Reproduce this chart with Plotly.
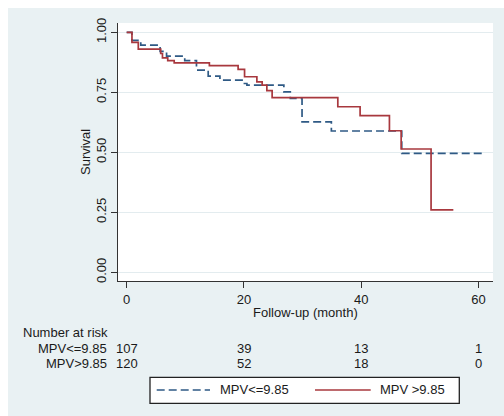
import plotly.graph_objects as go

# ---- data ----
t_low = [0, 0.9, 2.4, 5.7, 6.8, 9.9, 11.9, 13.9, 15.9, 19.9, 20.5, 26.8, 27.9, 29.9, 34.9, 46.9, 60.6]
s_low = [1.0, 0.967, 0.947, 0.921, 0.901, 0.882, 0.843, 0.818, 0.801, 0.787, 0.780, 0.752, 0.725, 0.627, 0.589, 0.496, 0.496]

t_high = [0, 0.9, 1.98, 5.8, 6.1, 7.0, 8.1, 14.1, 19.0, 20.1, 22.2, 23.1, 23.9, 24.8, 36.0, 39.8, 44.8, 46.8, 51.9, 55.7]
s_high = [1.0, 0.958, 0.930, 0.912, 0.894, 0.882, 0.873, 0.861, 0.846, 0.815, 0.794, 0.780, 0.757, 0.728, 0.690, 0.653, 0.590, 0.514, 0.260, 0.260]

risk_times = [0, 20, 40, 60]
risk_low = [107, 39, 13, 1]
risk_high = [120, 52, 18, 0]
group_labels = ["MPV<=9.85", "MPV>9.85"]
legend_labels = ["MPV<=9.85", "MPV >9.85"]
y_ticks = [0, 0.25, 0.5, 0.75, 1.0]
x_ticks = [0, 20, 40, 60]

BLUE = "#2f5a85"
RED = "#a8383e"
PANEL = "#e9f1f3"
GRID = "#e3ecef"
FONT = "Liberation Sans, Arial, sans-serif"
FS = 13

W, H = 504, 416
L, R, T, B = 118, 11, 23, 135
pw, ph = W - L - R, H - T - B


def px(x):
    return (x - L) / pw


def py(y):
    return (H - B - y) / ph


fig = go.Figure()
fig.add_trace(go.Scatter(x=t_low, y=s_low, mode="lines", line_shape="hv",
                         name=legend_labels[0],
                         line=dict(color=BLUE, width=1.7, dash="8px,4px"),
                         showlegend=False))
fig.add_trace(go.Scatter(x=t_high, y=s_high, mode="lines", line_shape="hv",
                         name=legend_labels[1],
                         line=dict(color=RED, width=1.7),
                         showlegend=False))

shapes = [
    # white strips outside the grey panel (top and left)
    dict(type="rect", xref="paper", yref="paper", x0=px(0), x1=px(W), y0=py(0), y1=py(8),
         fillcolor="white", line=dict(width=0), layer="below"),
    dict(type="rect", xref="paper", yref="paper", x0=px(0), x1=px(8), y0=py(H), y1=py(0),
         fillcolor="white", line=dict(width=0), layer="below"),
    # legend box
    dict(type="rect", xref="paper", yref="paper", x0=px(150), x1=px(459.3), y0=py(403.3), y1=py(377.3),
         fillcolor="white", line=dict(color="#222", width=1.3)),
    dict(type="line", xref="paper", yref="paper", x0=px(156.7), x1=px(210), y0=py(390), y1=py(390),
         line=dict(color=BLUE, width=1.7, dash="8px,4px")),
    dict(type="line", xref="paper", yref="paper", x0=px(315), x1=px(370.7), y0=py(390), y1=py(390),
         line=dict(color=RED, width=1.7)),
]

tf = dict(family=FONT, size=FS, color="#1a1a1a")
ann = [
    dict(text=legend_labels[0], xref="paper", yref="paper", x=px(218), y=py(390),
         xanchor="left", yanchor="middle", showarrow=False, font=tf),
    dict(text=legend_labels[1], xref="paper", yref="paper", x=px(378), y=py(390),
         xanchor="left", yanchor="middle", showarrow=False, font=tf),
    dict(text="Follow-up (month)", xref="paper", yref="paper", x=0.5, y=py(312),
         xanchor="center", yanchor="middle", showarrow=False, font=tf),
    dict(text="Survival", xref="paper", yref="paper", x=px(85), y=0.5, textangle=-90,
         xanchor="center", yanchor="middle", showarrow=False, font=tf),
    dict(text="Number at risk", xref="paper", yref="paper", x=px(21), y=py(332),
         xanchor="left", yanchor="middle", showarrow=False, font=tf),
]
for lab, yy in zip(group_labels, [348.3, 363.3]):
    ann.append(dict(text=lab, xref="paper", yref="paper", x=px(108.5), y=py(yy),
                    xanchor="right", yanchor="middle", showarrow=False, font=tf))
for vals, yy in zip([risk_low, risk_high], [348.3, 363.3]):
    for t, v in zip(risk_times, vals):
        ann.append(dict(text=str(v), xref="x", yref="paper", x=t, y=py(yy),
                        xanchor="center", yanchor="middle", showarrow=False, font=tf))

fig.update_layout(
    width=W, height=H,
    margin=dict(l=L, r=R, t=T, b=B, pad=0),
    paper_bgcolor=PANEL, plot_bgcolor="white",
    font=tf,
    showlegend=False,
    shapes=shapes,
    annotations=ann,
    xaxis=dict(range=[-1.48, 62.46], tickvals=x_ticks, showgrid=False, zeroline=False,
               showline=True, linecolor="#333", linewidth=1.3,
               ticks="outside", ticklen=6, tickwidth=1.3, tickcolor="#333",
               tickfont=tf, fixedrange=True),
    yaxis=dict(range=[-0.036, 1.039], tickvals=y_ticks, tickformat=".2f", tickangle=-90,
               showgrid=True, gridcolor=GRID, gridwidth=1, zeroline=False,
               showline=True, linecolor="#333", linewidth=1.3,
               ticks="outside", ticklen=6, tickwidth=1.3, tickcolor="#333",
               tickfont=tf, fixedrange=True),
)

fig.write_html("out.html")
